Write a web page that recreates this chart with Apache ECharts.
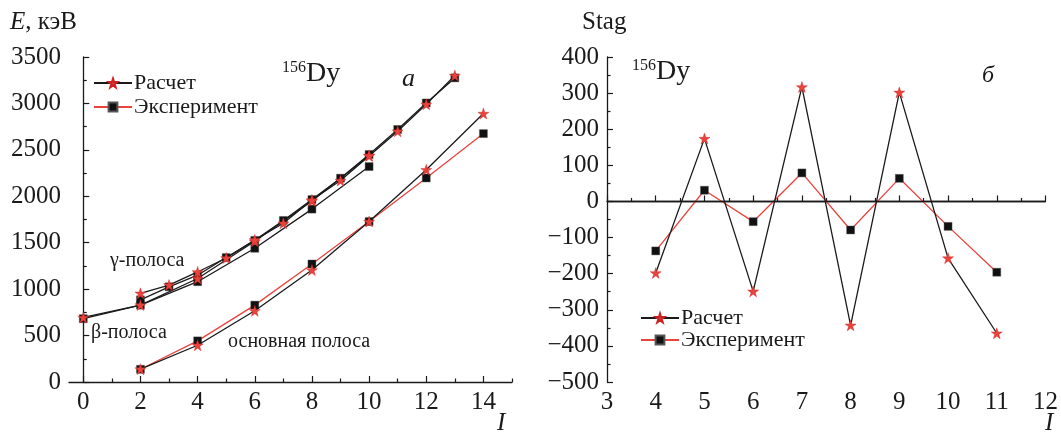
<!DOCTYPE html>
<html>
<head>
<meta charset="utf-8">
<script src="https://cdn.jsdelivr.net/npm/echarts@6/dist/echarts.min.js"></script>
<style>
html,body{margin:0;padding:0;background:#fff;}
#chart{width:1061px;height:438px;}
</style>
</head>
<body>
<div id="chart"></div>
<script>
// ---- Panel (a): energies, keV ----
const groundI = [2, 4, 6, 8, 10, 12, 14];
const groundCalc = [138, 396, 767, 1206, 1728, 2286, 2891];
const groundExp = [137, 443, 828, 1271, 1728, 2197, 2675];

const gammaI = [2, 3, 4, 5, 6, 7, 8, 9, 10, 11, 12, 13];
const gammaCalc = [955, 1044, 1185, 1335, 1530, 1710, 1960, 2170, 2435, 2700, 2990, 3300];
const gammaExp = [885, 1025, 1150, 1340, 1525, 1740, 1965, 2195, 2450, 2720, 3005, 3275];

const betaI = [0, 2, 4, 6, 8, 10];
const betaCalc = [695, 828, 1115, 1515, 1950, 2440];
const betaExp = [682, 828, 1080, 1440, 1862, 2320];

const leftXLabels = [0, 2, 4, 6, 8, 10, 12, 14];
const leftXMinor = [1, 3, 5, 7, 9, 11, 13, 15];

// ---- Panel (б): staggering ----
const stagI = [4, 5, 6, 7, 8, 9, 10, 11];
const stagCalc = [-198, 174, -249, 317, -343, 302, -157, -365];
const stagExp = [-137, 31, -56, 79, -79, 64, -69, -196];

const RED = '#e8433d';
const BLK = '#1a1a1a';
const STAR = 'path://M50,0 L61.8,35.1 L98.9,35.1 L68.9,57 L80.3,92.2 L50,70.5 L19.7,92.2 L31.1,57 L1.1,35.1 L38.2,35.1 Z';
const FONT = 'Liberation Serif';

function zip(xs, ys) { return xs.map((x, i) => [x, ys[i]]); }

function calcSeries(name, x, y, xi, yi) {
  return {
    name: name, type: 'line', xAxisIndex: xi, yAxisIndex: yi,
    data: zip(x, y), symbol: STAR, symbolSize: 11,
    lineStyle: {color: BLK, width: 1.3},
    itemStyle: {color: RED, borderColor: '#c22', borderWidth: 0.4},
    z: 3, animation: false
  };
}
function expSeries(name, x, y, xi, yi, lineColor) {
  return {
    name: name, type: 'line', xAxisIndex: xi, yAxisIndex: yi,
    data: zip(x, y), symbol: 'rect', symbolSize: 8,
    lineStyle: {color: lineColor, width: 1.3},
    itemStyle: {color: '#111', borderColor: '#555', borderWidth: 0.4},
    z: 2, animation: false
  };
}

const axisLineStyle = {lineStyle: {color: BLK, width: 1.3}};
const labelStyle = {color: BLK, fontFamily: FONT, fontSize: 25};
const numFmt = v => String(v).replace('-', '\u2212');

function txt(left, top, text, size, italic) {
  return {type: 'text', left: left, top: top, style: {
    text: text, fill: BLK, fontFamily: FONT, fontSize: size, fontStyle: italic ? 'italic' : 'normal'}};
}
function nuclide(left, top) {
  return {type: 'text', left: left, top: top, style: {
    text: '{s|156}{b|Dy}', fill: BLK,
    rich: {s: {fontFamily: FONT, fontSize: 16, verticalAlign: 'top', padding: [0, 0, 12, 0], fill: BLK},
           b: {fontFamily: FONT, fontSize: 28, fill: BLK}}}};
}

const chart = echarts.init(document.getElementById('chart'), null, {renderer: 'canvas'});

const option = {
  backgroundColor: '#fff',
  animation: false,
  textStyle: {fontFamily: FONT},
  grid: [
    {left: 69, top: 57, width: 443, height: 325},
    {left: 607, top: 57, width: 442, height: 325}
  ],
  xAxis: [
    {gridIndex: 0, type: 'value', min: -0.5, max: 15, position: 'bottom',
     axisLine: axisLineStyle, splitLine: {show: false},
     axisTick: {inside: true, length: 6, lineStyle: {color: BLK, width: 1.2}, customValues: leftXLabels},
     axisLabel: Object.assign({margin: 8, customValues: leftXLabels, formatter: numFmt}, labelStyle)},
    {gridIndex: 0, type: 'value', min: -0.5, max: 15, position: 'bottom',
     axisLine: {show: false}, splitLine: {show: false},
     axisTick: {inside: true, length: 3.5, lineStyle: {color: BLK, width: 1.2}, customValues: leftXMinor},
     axisLabel: {show: false}},
    {gridIndex: 1, type: 'value', min: 3, max: 12, interval: 1, position: 'bottom',
     axisLine: axisLineStyle, splitLine: {show: false},
     axisTick: {inside: true, length: 6, lineStyle: {color: BLK, width: 1.2}},
     minorTick: {show: true, splitNumber: 2, length: 3.5, lineStyle: {color: BLK, width: 1.2}},
     axisLabel: Object.assign({margin: 8, formatter: numFmt}, labelStyle)}
  ],
  yAxis: [
    {gridIndex: 0, type: 'value', min: 0, max: 3500, interval: 500,
     axisLine: Object.assign({show: true}, axisLineStyle), splitLine: {show: false},
     axisTick: {show: true, inside: true, length: 6, lineStyle: {color: BLK, width: 1.2}},
     minorTick: {show: true, splitNumber: 2, length: 3.5, lineStyle: {color: BLK, width: 1.2}},
     axisLabel: Object.assign({margin: 8, formatter: numFmt}, labelStyle)},
    {gridIndex: 1, type: 'value', min: -500, max: 400, interval: 100,
     axisLine: Object.assign({show: true, onZero: false}, axisLineStyle), splitLine: {show: false},
     axisTick: {show: true, inside: true, length: 6, lineStyle: {color: BLK, width: 1.2}},
     minorTick: {show: true, splitNumber: 2, length: 3.5, lineStyle: {color: BLK, width: 1.2}},
     axisLabel: Object.assign({margin: 8, formatter: numFmt}, labelStyle)}
  ],
  legend: [
    {data: ['Расчет', 'Эксперимент'], orient: 'vertical', left: 88, top: 67,
     itemWidth: 38, itemHeight: 11, itemGap: 2,
     textStyle: {color: BLK, fontFamily: FONT, fontSize: 22, padding: [0, 0, 0, -3]},
     selectedMode: false},
    {data: ['Расчет', 'Эксперимент'], orient: 'vertical', left: 635, top: 302,
     itemWidth: 38, itemHeight: 11, itemGap: 0,
     textStyle: {color: BLK, fontFamily: FONT, fontSize: 22, padding: [0, 0, 0, -3]},
     selectedMode: false}
  ],
  series: [
    expSeries('β exp', betaI, betaExp, 0, 0, BLK),
    calcSeries('β calc', betaI, betaCalc, 0, 0),
    expSeries('γ exp', gammaI, gammaExp, 0, 0, BLK),
    calcSeries('γ calc', gammaI, gammaCalc, 0, 0),
    expSeries('Эксперимент', groundI, groundExp, 0, 0, RED),
    calcSeries('Расчет', groundI, groundCalc, 0, 0),
    Object.assign(expSeries('Эксперимент', stagI, stagExp, 2, 1, RED), {
      markLine: {silent: true, symbol: 'none', label: {show: false},
        lineStyle: {color: BLK, width: 1.3, type: 'solid'}, data: [{yAxis: 0}], animation: false}
    }),
    calcSeries('Расчет', stagI, stagCalc, 2, 1)
  ],
  graphic: [
    {type: 'text', left: 10, top: 10, style: {
      text: '{i|E}{n|, кэВ}', fill: BLK,
      rich: {i: {fontStyle: 'italic', fontFamily: FONT, fontSize: 25, fill: BLK},
             n: {fontFamily: FONT, fontSize: 25, fill: BLK}}}},
    txt(582, 10, 'Stag', 25, false),
    nuclide(282, 60),
    nuclide(632, 58),
    txt(402, 66, 'а', 26, true),
    txt(982, 64, 'б', 24, true),
    txt(110, 251, 'γ-полоса', 20, false),
    txt(91, 323, 'β-полоса', 20, false),
    txt(228, 332, 'основная полоса', 20, false),
    txt(497, 411, 'I', 25, true),
    txt(1045, 411, 'I', 25, true)
  ]
};
chart.setOption(option);
</script>
</body>
</html>
